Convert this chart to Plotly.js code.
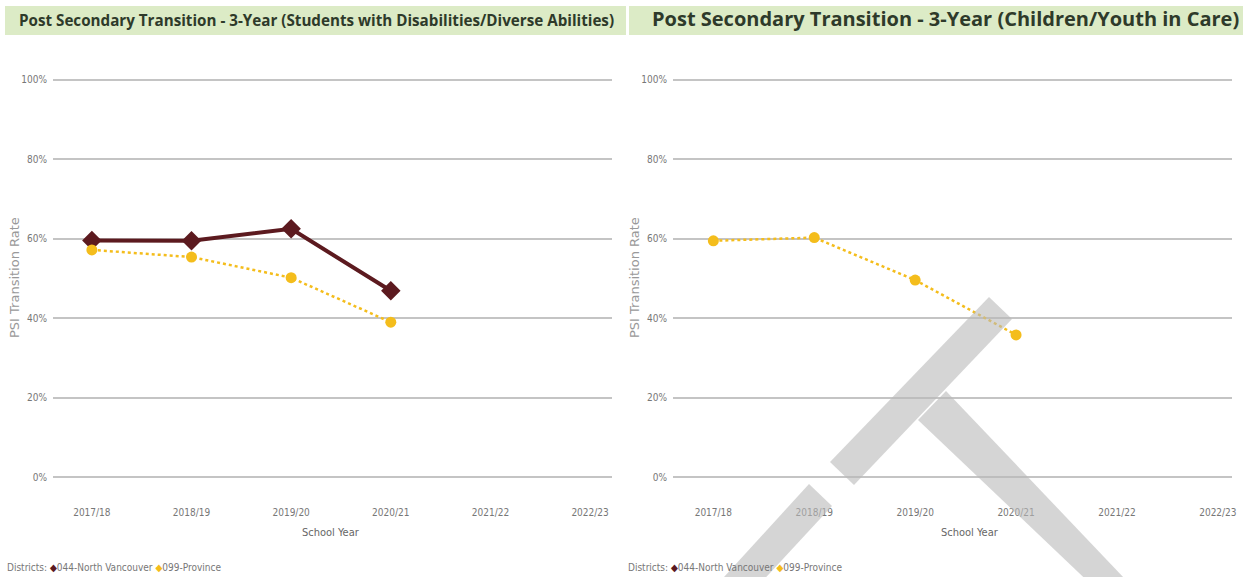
<!DOCTYPE html>
<html>
<head>
<meta charset="utf-8">
<script src="https://cdn.plot.ly/plotly-3.0.1.min.js"></script>
<style>html,body{margin:0;padding:0;background:#fff;}#chart{width:1243px;height:577px;}</style>
</head>
<body>
<div id="chart"></div>
<script>
// ---- data ----
const years = ['2017/18', '2018/19', '2019/20', '2020/21', '2021/22', '2022/23'];
const swdNorthVancouver = [59.6, 59.5, 62.5, 46.9, null, null];
const swdProvince = [57.2, 55.4, 50.2, 39.0, null, null];
const cycProvince = [59.5, 60.3, 49.6, 35.8, null, null];
const yTicks = [0, 20, 40, 60, 80, 100];
const yTickLabels = ['0%', '20%', '40%', '60%', '80%', '100%'];
const leftTitle = 'Post Secondary Transition - 3-Year (Students with Disabilities/Diverse Abilities)';
const rightTitle = 'Post Secondary Transition - 3-Year (Children/Youth in Care)';
const yTitle = 'PSI Transition Rate';
const xTitle = 'School Year';
const legendText = 'Districts: <span style="color:#5a1a1f">◆</span>044-North Vancouver <span style="color:#f4bd1c">◆</span>099-Province';

// ---- styling ----
const W = 1243, H = 577;
const px = v => v / W;
const py = v => 1 - v / H;
const maroon = '#5c1a1f';
const gold = '#f4bd1c';
const narrow = 'Liberation Sans Narrow, DejaVu Sans Condensed, Arial Narrow, sans-serif';

const traces = [
  {x: years, y: swdNorthVancouver, xaxis: 'x', yaxis: 'y', type: 'scatter', mode: 'lines+markers',
   line: {color: maroon, width: 4}, marker: {symbol: 'diamond', size: 15, color: maroon}, name: '044-North Vancouver'},
  {x: years, y: swdProvince, xaxis: 'x', yaxis: 'y', type: 'scatter', mode: 'lines+markers',
   line: {color: gold, width: 2.5, dash: 'dot'}, marker: {symbol: 'circle', size: 11, color: gold}, name: '099-Province'},
  {x: years, y: cycProvince, xaxis: 'x2', yaxis: 'y2', type: 'scatter', mode: 'lines+markers',
   line: {color: gold, width: 2.5, dash: 'dot'}, marker: {symbol: 'circle', size: 11, color: gold}, name: '099-Province'}
];

function xAxis(domain, range) {
  return {domain: domain, type: 'category', categoryorder: 'array', categoryarray: years,
    range: range, showgrid: false, zeroline: false, showline: false, ticks: '',
    tickfont: {family: narrow, size: 10, color: '#777'}, ticklabelstandoff: 26, fixedrange: true};
}
function yAxis(anchor) {
  return {domain: [py(479), py(78)], anchor: anchor, range: [-0.5, 100.5], tickmode: 'array', tickvals: yTicks,
    ticktext: yTickLabels, showgrid: true, gridcolor: '#c4c4c4', gridwidth: 2, zeroline: false, showline: false,
    ticks: '', tickfont: {family: narrow, size: 10, color: '#777'}, ticklabelstandoff: 5, fixedrange: true};
}

const band = 'rgba(185,185,185,0.6)';
function poly(pts) {
  return 'M ' + pts.map(p => px(p[0]) + ' ' + py(p[1])).join(' L ') + ' Z';
}

const layout = {
  width: W, height: H,
  margin: {l: 0, r: 0, t: 0, b: 0},
  paper_bgcolor: '#fff', plot_bgcolor: 'rgba(0,0,0,0)',
  showlegend: false,
  xaxis: xAxis([px(53), px(612)], [-0.39, 5.22]),
  yaxis: yAxis('x'),
  xaxis2: xAxis([px(673), px(1232)], [-0.40, 5.14]),
  yaxis2: yAxis('x2'),
  shapes: [
    {type: 'rect', xref: 'paper', yref: 'paper', x0: px(5), x1: px(626), y0: py(35), y1: py(6),
     fillcolor: '#dcebc6', line: {width: 0}, layer: 'below'},
    {type: 'rect', xref: 'paper', yref: 'paper', x0: px(629), x1: px(1243), y0: py(35), y1: py(6),
     fillcolor: '#dcebc6', line: {width: 0}, layer: 'below'},
    // watermark bands
    {type: 'path', xref: 'paper', yref: 'paper', layer: 'above', fillcolor: band, line: {width: 0},
     path: poly([[830, 462], [989, 297], [1012, 319], [854, 485]])},
    {type: 'path', xref: 'paper', yref: 'paper', layer: 'above', fillcolor: band, line: {width: 0},
     path: poly([[918, 420], [946, 391], [1145, 600], [1118, 610]])},
    {type: 'path', xref: 'paper', yref: 'paper', layer: 'above', fillcolor: band, line: {width: 0},
     path: poly([[809, 484], [832, 506], [745, 600], [703, 600]])}
  ],
  annotations: [
    {xref: 'paper', yref: 'paper', x: px(316), y: py(20), text: '<b>' + leftTitle + '</b>', showarrow: false,
     font: {family: 'Open Sans, sans-serif', size: 15.2, color: '#2e3a2a'}, xanchor: 'center', yanchor: 'middle'},
    {xref: 'paper', yref: 'paper', x: px(945), y: py(19), text: '<b>' + rightTitle + '</b>', showarrow: false,
     font: {family: 'Open Sans, sans-serif', size: 20, color: '#2e3a2a'}, xanchor: 'center', yanchor: 'middle'},
    {xref: 'paper', yref: 'paper', x: px(15), y: py(278), text: yTitle, showarrow: false, textangle: -90,
     font: {family: 'DejaVu Sans, sans-serif', size: 13, color: '#999'}, xanchor: 'center', yanchor: 'middle'},
    {xref: 'paper', yref: 'paper', x: px(635), y: py(278), text: yTitle, showarrow: false, textangle: -90,
     font: {family: 'DejaVu Sans, sans-serif', size: 13, color: '#999'}, xanchor: 'center', yanchor: 'middle'},
    {xref: 'paper', yref: 'paper', x: px(331), y: py(532), text: xTitle, showarrow: false,
     font: {family: narrow, size: 11, color: '#666'}, xanchor: 'center', yanchor: 'middle'},
    {xref: 'paper', yref: 'paper', x: px(970), y: py(532), text: xTitle, showarrow: false,
     font: {family: narrow, size: 11, color: '#666'}, xanchor: 'center', yanchor: 'middle'},
    {xref: 'paper', yref: 'paper', x: px(5), y: py(567), text: legendText, showarrow: false,
     font: {family: narrow, size: 10, color: '#777'}, xanchor: 'left', yanchor: 'middle'},
    {xref: 'paper', yref: 'paper', x: px(626), y: py(567), text: legendText, showarrow: false,
     font: {family: narrow, size: 10, color: '#777'}, xanchor: 'left', yanchor: 'middle'}
  ]
};

Plotly.newPlot('chart', traces, layout, {displayModeBar: false, staticPlot: true});
</script>
</body>
</html>
